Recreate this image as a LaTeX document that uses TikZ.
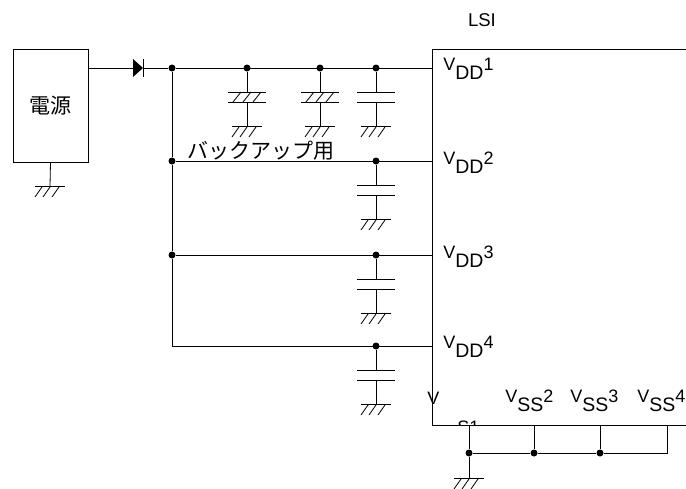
\documentclass[tikz,border=0pt]{standalone}
\usepackage{fontspec}
\setmainfont{Liberation Sans}
\newfontfamily\jp{Noto Sans CJK JP}
\newcommand{\bigsub}[1]{\raisebox{-9pt}{\fontsize{19.5}{19.5}\selectfont #1}}
\begin{document}
\begin{tikzpicture}[x=1pt,y=-1pt,line width=0.8pt,
  dot/.style={circle,fill,inner sep=0pt,minimum size=7pt},
  lbl/.style={inner sep=0pt,anchor=base west,font=\fontsize{18}{18}\selectfont},
  gnd/.pic={\draw (-15,0) -- (15,0); \foreach \d in {-8,0,9} \draw (\d,1) -- (\d-7,11);},
  caph/.pic={\draw (-19,0) -- (19,0) (-19,10) -- (19,10); \foreach \d in {-10,0,10} \draw (\d-4,10) -- (\d+4,0);},
  capp/.pic={\draw (-19,0) -- (19,0) (-19,10) -- (19,10);}]
\useasboundingbox (0,0) rectangle (686,488);
\clip (0,0) rectangle (686,488);
% power supply
\node[draw,minimum width=75pt,minimum height=113pt,inner sep=0pt,font=\jp\fontsize{21}{21}\selectfont] (psu) at (50.5,105.5) {電源};
\coordinate (psuout) at (88,68);
\coordinate (psug) at (50,186);
\draw (psu.south) -- (psug);
\pic at (psug) {gnd};
% LSI box
\node[draw,minimum width=300pt,minimum height=376pt,inner sep=0pt,anchor=north west] (lsi) at (432,49) {};
\node[inner sep=0pt,font=\fontsize{18.5}{18.5}\selectfont] (lsit) at (482,20) {LSI};
% diode
\coordinate (da) at (133,68);
\coordinate (dk) at (143,68);
\fill (133,59) -- (143,68) -- (133,77) -- cycle;
\draw (143,59) -- (143,77);
\draw (psuout) -- (da);
% junctions on left bus
\node[dot] (j1) at (172,68) {};
\node[dot] (j2) at (172,161) {};
\node[dot] (j3) at (172,255) {};
\coordinate (j4) at (172,346);
% LSI pins
\coordinate (p1) at (432,68);
\coordinate (p2) at (432,161);
\coordinate (p3) at (432,255);
\coordinate (p4) at (432,346);
\draw (dk) -- (j1) -- (p1);
\draw (j1) -- (j2) -- (j3) -- (j4) -- (p4);
\draw (j2) -- (p2);
\draw (j3) -- (p3);
% capacitor columns
\node[dot] (c1) at (247,68) {};
\node[dot] (c2) at (320,68) {};
\node[dot] (c3) at (376,68) {};
\node[dot] (c4) at (376,161) {};
\node[dot] (c5) at (376,255) {};
\node[dot] (c6) at (376,346) {};
\foreach \n/\x/\y/\t in {c1/247/68/caph,c2/320/68/caph,c3/376/68/capp,c4/376/161/capp,c5/376/255/capp,c6/376/346/capp}{
  \draw (\n) -- (\x,\y+24);
  \pic at (\x,\y+24) {\t};
  \draw (\x,\y+34) -- (\x,\y+58);
  \pic at (\x,\y+58) {gnd};
}
\node[inner sep=0pt,anchor=base west,font=\jp\fontsize{21}{21}\selectfont] (bk) at (187,158) {バックアップ用};
% VDD labels
\node[lbl] (l1) at (443,70) {V\bigsub{DD}1};
\node[lbl] (l2) at (443,164) {V\bigsub{DD}2};
\node[lbl] (l3) at (443,258) {V\bigsub{DD}3};
\node[lbl] (l4) at (443,348) {V\bigsub{DD}4};
% VSS labels
\node[lbl] (s1) at (427,404) {V};
\begin{scope}
  \clip (440,410) rectangle (520,424.4);
  \node[lbl] (s1b) at (457,433) {S1};
\end{scope}
\node[lbl] (s2) at (505,402) {V\bigsub{SS}2};
\node[lbl] (s3) at (570,402) {V\bigsub{SS}3};
\node[lbl] (s4) at (637,402) {V\bigsub{SS}4};
% VSS bus
\coordinate (v1) at (469,425);
\coordinate (v2) at (534,425);
\coordinate (v3) at (600,425);
\coordinate (v4) at (667,425);
\node[dot] (b1) at (469,453) {};
\node[dot] (b2) at (534,453) {};
\node[dot] (b3) at (600,453) {};
\coordinate (b4) at (667,453);
\coordinate (bg) at (469,478);
\draw (v1) -- (b1) -- (bg);
\draw (v2) -- (b2);
\draw (v3) -- (b3);
\draw (v4) -- (b4) -- (b3) -- (b2) -- (b1);
\pic at (bg) {gnd};
\end{tikzpicture}
\end{document}
